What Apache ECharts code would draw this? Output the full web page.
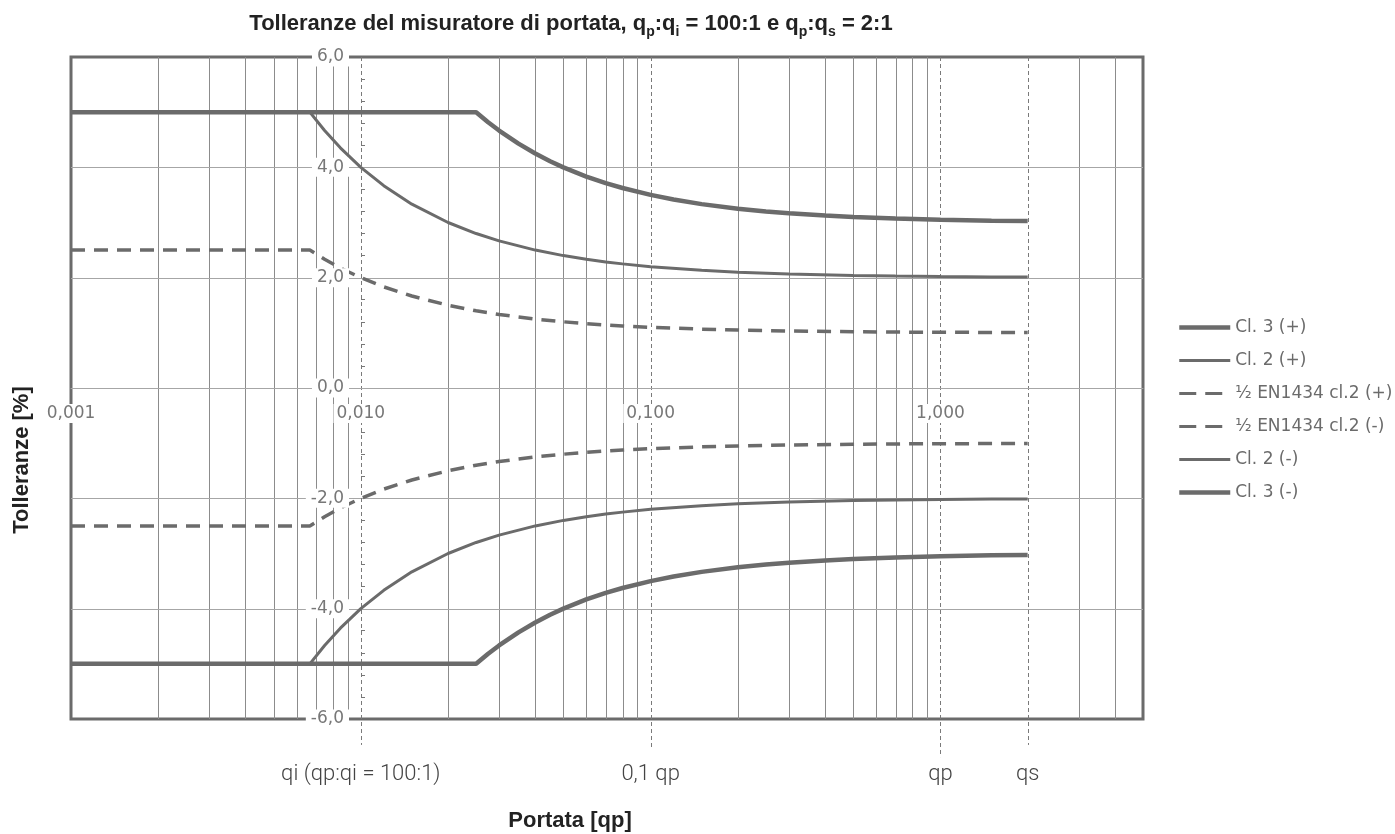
<!DOCTYPE html>
<html>
<head>
<meta charset="utf-8">
<script src="https://cdn.jsdelivr.net/npm/echarts@6/dist/echarts.min.js"></script>
<style>
html,body{margin:0;padding:0;background:#fff;}
#chart{width:1395px;height:834px;}
</style>
</head>
<body>
<div id="chart"></div>
<script>
// ---- data (x = flow in units of qp, y = tolerance %) ----
const qCl3 = [0.001, 0.025, 0.0275, 0.03, 0.035, 0.04, 0.045, 0.05, 0.06, 0.07, 0.08, 0.1, 0.12, 0.15, 0.2, 0.25, 0.3, 0.4, 0.5, 0.7, 1, 1.5, 2];
const cl3Plus  = [5, 5, 4.818, 4.667, 4.429, 4.25, 4.111, 4.0, 3.833, 3.714, 3.625, 3.5, 3.417, 3.333, 3.25, 3.2, 3.167, 3.125, 3.1, 3.071, 3.05, 3.033, 3.025];
const cl3Minus = [-5, -5, -4.818, -4.667, -4.429, -4.25, -4.111, -4.0, -3.833, -3.714, -3.625, -3.5, -3.417, -3.333, -3.25, -3.2, -3.167, -3.125, -3.1, -3.071, -3.05, -3.033, -3.025];

const qCl2 = [0.001, 0.00667, 0.0075, 0.0085, 0.01, 0.012, 0.015, 0.02, 0.025, 0.03, 0.04, 0.05, 0.06, 0.07, 0.08, 0.1, 0.15, 0.2, 0.3, 0.5, 0.7, 1, 1.5, 2];
const cl2Plus  = [5, 5, 4.667, 4.353, 4.0, 3.667, 3.333, 3.0, 2.8, 2.667, 2.5, 2.4, 2.333, 2.286, 2.25, 2.2, 2.133, 2.1, 2.067, 2.04, 2.029, 2.02, 2.013, 2.01];
const cl2Minus = [-5, -5, -4.667, -4.353, -4.0, -3.667, -3.333, -3.0, -2.8, -2.667, -2.5, -2.4, -2.333, -2.286, -2.25, -2.2, -2.133, -2.1, -2.067, -2.04, -2.029, -2.02, -2.013, -2.01];
const enPlus   = [2.5, 2.5, 2.333, 2.176, 2.0, 1.833, 1.667, 1.5, 1.4, 1.333, 1.25, 1.2, 1.167, 1.143, 1.125, 1.1, 1.067, 1.05, 1.033, 1.02, 1.014, 1.01, 1.007, 1.005];
const enMinus  = [-2.5, -2.5, -2.333, -2.176, -2.0, -1.833, -1.667, -1.5, -1.4, -1.333, -1.25, -1.2, -1.167, -1.143, -1.125, -1.1, -1.067, -1.05, -1.033, -1.02, -1.014, -1.01, -1.007, -1.005];

const seriesNames = ['Cl. 3 (+)', 'Cl. 2 (+)', '½ EN1434 cl.2 (+)', '½ EN1434 cl.2 (-)', 'Cl. 2 (-)', 'Cl. 3 (-)'];

// reference flows (vertical dashed markers) and their labels
const markerQ = [0.01, 0.1, 1, 2];
const markerBottom = [-6.47, -6.51, -6.69, -6.47];
const markerLabels = ['qi (qp:qi = 100:1)', '0,1 qp', 'qp', 'qs'];

// axis settings
const xMin = 0.001, xMax = 5;
const yMin = -6, yMax = 6, yStep = 2;
const minorGridQ = [0.002,0.003,0.004,0.005,0.006,0.007,0.008,0.009,
                    0.02,0.03,0.04,0.05,0.06,0.07,0.08,0.09,
                    0.2,0.3,0.4,0.5,0.6,0.7,0.8,0.9,
                    3,4];
const hGridY = [-4, -2, 0, 2, 4];

const titleText = 'Tolleranze del misuratore di portata, q{s|p}:q{s|i} = 100:1 e q{s|p}:q{s|s} = 2:1';
const yTitle = 'Tolleranze [%]';
const xTitle = 'Portata [qp]';

// ---- chart ----
const LINE = '#6b6b6b';
const zip = (xs, ys) => xs.map((x, i) => [x, ys[i]]);
const crisp = v => Math.round(v) + 0.5;

const chart = echarts.init(document.getElementById('chart'), null, {renderer: 'canvas'});

const seriesWidth = [4.5, 3, 3.5, 3.5, 3, 4.5];
const seriesDashed = [false, false, true, true, false, false];

function lineSeries(i, xs, ys) {
  return {
    name: seriesNames[i], type: 'line', data: zip(xs, ys),
    showSymbol: false, symbol: 'none', z: 2, silent: true,
    lineStyle: {color: LINE, width: seriesWidth[i], type: seriesDashed[i] ? [14, 9] : 'solid', cap: 'butt'},
    itemStyle: {color: LINE},
    emphasis: {disabled: true}
  };
}

// grid geometry
const G = {left: 71, right: 252, top: 57, bottom: 115};
const plotH = 834 - G.top - G.bottom;

const option = {
  animation: false,
  backgroundColor: '#fff',
  grid: Object.assign({show: true, borderColor: '#6b6b6b', borderWidth: 3, backgroundColor: 'transparent'}, G),
  xAxis: {
    type: 'log', logBase: 10, min: xMin, max: xMax, z: 3,
    position: 'bottom', offset: -plotH * (0 - yMin) / (yMax - yMin),
    axisLine: {show: true, onZero: false, lineStyle: {color: '#a6a6a6', width: 1}},
    axisTick: {show: false},
    splitLine: {show: false},
    axisLabel: {
      showMaxLabel: false, margin: 16, color: '#777', fontFamily: 'DejaVu Sans', fontSize: 17,
      backgroundColor: '#fff', padding: [1, 3],
      formatter: v => Number(v).toFixed(3).replace('.', ',')
    }
  },
  yAxis: {
    type: 'value', min: yMin, max: yMax, interval: yStep, position: 'left', offset: -290, z: 3,
    axisLine: {show: false, onZero: false},
    axisTick: {show: false, inside: true},
    minorTick: {show: true, splitNumber: 5, length: 4, lineStyle: {color: '#777'}},
    splitLine: {show: false},
    axisLabel: {
      margin: 12, color: '#777', fontFamily: 'DejaVu Sans', fontSize: 17,
      backgroundColor: '#fff', padding: [1, 5],
      formatter: v => Number(v).toFixed(1).replace('.', ',')
    }
  },
  legend: {
    data: seriesNames.map((n, i) => ({
      name: n,
      lineStyle: {width: seriesWidth[i] > 4 ? 4.5 : 3, type: seriesDashed[i] ? [17, 9] : 'solid', color: LINE},
      itemStyle: {color: 'rgba(0,0,0,0)', borderWidth: 0, opacity: 0}
    })),
    orient: 'vertical', left: 1172, top: 314,
    itemWidth: 51, itemHeight: 14, itemGap: 16,
    textStyle: {color: '#6b6b6b', fontFamily: 'DejaVu Sans', fontSize: 17},
    selectedMode: false
  },
  series: [
    {
      type: 'custom', z: 1, silent: true, data: minorGridQ.map(q => [q]),
      renderItem: (params, api) => {
        const x = api.value(0);
        const p1 = api.coord([x, yMax]), p2 = api.coord([x, yMin]);
        return {type: 'line', shape: {x1: crisp(p1[0]), y1: p1[1], x2: crisp(p1[0]), y2: p2[1]}, style: {stroke: '#8c8c8c', lineWidth: 1}};
      }
    },
    {
      type: 'custom', z: 1, silent: true, data: hGridY.map(y => [xMin, y]),
      renderItem: (params, api) => {
        const y = api.value(1);
        const p1 = api.coord([xMin, y]), p2 = api.coord([xMax, y]);
        return {type: 'line', shape: {x1: p1[0], y1: crisp(p1[1]), x2: p2[0], y2: crisp(p1[1])}, style: {stroke: '#a6a6a6', lineWidth: 1}};
      }
    },
    {
      type: 'custom', z: 1, silent: true, clip: false, data: markerQ.map((q, i) => [q, markerBottom[i]]),
      renderItem: (params, api) => {
        const x = api.value(0), yb = api.value(1);
        const p1 = api.coord([x, yMax]), p2 = api.coord([x, yb]);
        const bottom = api.coord([x, yMin]);
        return {
          type: 'group',
          children: [
            {type: 'line', shape: {x1: crisp(p1[0]), y1: p1[1], x2: crisp(p1[0]), y2: p2[1]},
             style: {stroke: '#7a7a7a', lineWidth: 1, lineDash: [4, 3]}},
            {type: 'text', x: p1[0], y: bottom[1] + 55,
             style: {text: markerLabels[params.dataIndex], fill: '#444', fontFamily: 'Roboto', fontWeight: 300, fontSize: 22, align: 'center', verticalAlign: 'middle'}}
          ]
        };
      }
    },
    lineSeries(0, qCl3, cl3Plus),
    lineSeries(1, qCl2, cl2Plus),
    lineSeries(2, qCl2, enPlus),
    lineSeries(3, qCl2, enMinus),
    lineSeries(4, qCl2, cl2Minus),
    lineSeries(5, qCl3, cl3Minus)
  ],
  graphic: [
    {type: 'text', x: 571, y: 24, z: 10,
     style: {text: titleText, fill: '#222', fontFamily: 'Liberation Sans', fontWeight: 'bold', fontSize: 22, align: 'center', verticalAlign: 'middle',
             rich: {s: {fontFamily: 'Liberation Sans', fontWeight: 'bold', fontSize: 14, fill: '#222', padding: [16, 0, 0, 0]}}}},
    {type: 'text', x: 22, y: 460, rotation: Math.PI / 2, z: 10,
     style: {text: yTitle, fill: '#222', fontFamily: 'Liberation Sans', fontWeight: 'bold', fontSize: 22, align: 'center', verticalAlign: 'middle'}},
    {type: 'text', x: 570, y: 821, z: 10,
     style: {text: xTitle, fill: '#222', fontFamily: 'Liberation Sans', fontWeight: 'bold', fontSize: 22, align: 'center', verticalAlign: 'middle'}}
  ]
};
chart.setOption(option);
</script>
</body>
</html>
